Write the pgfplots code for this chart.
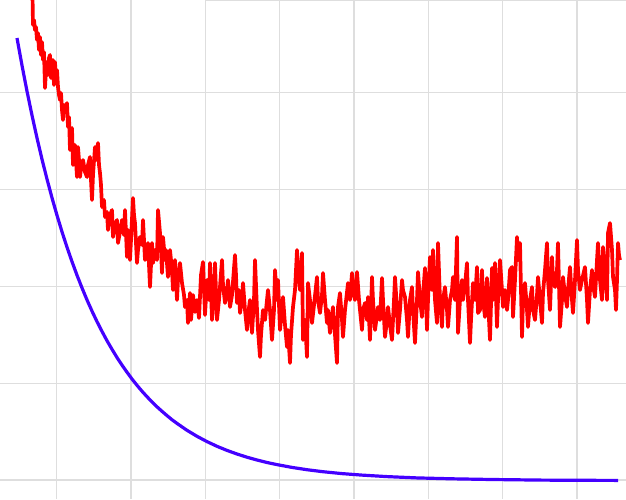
\documentclass[border=0pt]{standalone}
\usepackage{pgfplots}
\pgfplotsset{compat=1.18}
\definecolor{gridgray}{HTML}{DEDEDE}
\definecolor{bluecurve}{HTML}{4400FF}
\definecolor{redcurve}{HTML}{FF0000}
\begin{document}
\begin{tikzpicture}
\begin{axis}[
  scale only axis, width=626pt, height=499pt,
  xmin=0, xmax=626, ymin=0, ymax=499, y dir=reverse,
  axis line style={draw=none},
  xtick={56.7,131,205.3,279.7,354,428.3,502.7,577},
  ytick={92.3,189.3,286.3,383.2,480},
  xticklabels={}, yticklabels={},
  major tick length=0pt,
  grid=major,
  major grid style={draw=gridgray, line width=1.1pt},
  clip=true,
]
\addplot[draw=gridgray, line width=1.1pt] coordinates {(205,0.5) (626,0.5)};
\addplot[draw=bluecurve, line width=3.2pt, line cap=butt] coordinates {
(17,38.0) (22,65.4) (27,91.2) (32,115.3) (37,138.0) (42,159.2) (47,179.1) (52,197.8)
(57,215.3) (62,231.8) (67,247.2) (72,261.6) (77,275.2) (82,287.9) (87,299.9) (92,311.1)
(97,321.6) (102,331.4) (107,340.7) (112,349.3) (117,357.5) (122,365.1) (127,372.2)
(132,379.0) (137,385.3) (142,391.2) (147,396.7) (152,401.9) (157,406.8) (162,411.3)
(167,415.6) (172,419.7) (177,423.4) (187,430.3) (197,436.3) (207,441.6) (217,446.3)
(227,450.4) (237,454.0) (247,457.2) (257,460.0) (267,462.5) (277,464.6) (292,467.4)
(307,469.7) (322,471.6) (342,473.6) (362,475.1) (387,476.6) (417,477.9) (452,478.8)
(492,479.5) (542,480.1) (582,480.3) (618,480.4)
};
\addplot[draw=redcurve, line width=3.7pt, line join=round] coordinates {
(32.5,-5) (33,25) (34,20) (35,30) (36,27) (37,40) (38,33) (39,50) (40,37) (41,55) (42,42)
(43,60) (44,52) (45,88) (46,70) (47,62) (48,75) (49,58) (50,55) (51,78) (52,72) (53,60)
(54,85) (55,62) (56,80) (57,70) (58,87) (59,95) (60,100) (61,93) (62,110) (63,120) (64,105)
(65,112) (67,103) (68,127) (69,117) (70,150) (71,132) (72,128) (73,165) (74,155) (75,145)
(77,177) (78,147) (79,160) (80,177) (81,168) (83,160) (85,172) (87,177) (88,165) (90,157)
(91,180) (92,200) (93,175) (95,147) (96,160) (98,143) (99,165) (100,173) (101,185) (102,207)
(104,200) (105,217) (107,212) (108,230) (110,215) (112,210) (113,237) (115,225) (117,220)
(118,243) (120,232) (122,220) (124,235) (125,210) (127,257) (128,230) (130,260) (131,240)
(133,198) (134,215) (135,223) (137,263) (138,250) (140,237) (142,245) (143,220) (145,260)
(147,250) (148,243) (150,287) (151,265) (152,243) (153,263) (155,250) (157,260) (158,210)
(160,233) (161,250) (162,273) (163,237) (165,260) (166,250) (168,277) (170,250) (172,270)
(173,290) (175,260) (177,300) (178,280) (180,263) (182,283) (184,295) (185,307) (187,300)
(188,323) (190,293) (191,320) (193,295) (195,312) (197,300) (199,318) (201,275) (203,262)
(205,315) (207,280) (209,300) (210,263) (212,320) (214,290) (215,263) (217,320) (219,300)
(222,260) (223,285) (225,303) (227,290) (228,280) (230,307) (232,295) (235,255) (236,275)
(237,303) (239,290) (240,313) (242,300) (243,283) (245,310) (247,330) (248,315) (250,300)
(252,333) (254,300) (255,260) (257,310) (258,330) (260,357) (261,335) (263,310) (265,320)
(268,290) (270,310) (272,340) (274,310) (275,270) (277,300) (278,280) (280,330) (282,310)
(283,297) (285,325) (287,347) (288,330) (290,363) (291,335) (293,307) (295,290) (297,250)
(298,270) (300,290) (302,253) (303,340) (305,320) (307,357) (308,283) (310,300) (312,323)
(314,305) (317,277) (318,300) (320,313) (322,295) (323,273) (325,300) (327,323) (328,310)
(330,333) (332,315) (333,307) (335,335) (337,363) (338,307) (340,293) (342,320) (343,337)
(345,310) (348,283) (350,300) (352,273) (353,290) (355,300) (357,272) (359,300) (362,330)
(363,310) (365,303) (367,320) (368,297) (370,340) (372,277) (373,300) (375,330) (377,315)
(378,307) (380,320) (382,278) (383,300) (385,337) (387,320) (388,307) (390,325) (392,340)
(394,300) (395,277) (397,310) (398,333) (400,310) (402,280) (403,290) (405,297) (407,320)
(408,337) (410,300) (412,287) (413,310) (415,343) (417,300) (418,272) (420,300) (422,317)
(423,295) (425,268) (427,330) (428,300) (430,257) (432,290) (433,250) (435,300) (437,323)
(438,243) (440,300) (442,327) (443,300) (445,287) (447,310) (448,327) (450,300) (452,290)
(453,277) (455,300) (457,237) (458,333) (460,300) (462,280) (463,300) (465,285) (467,263)
(468,300) (470,343) (471,320) (473,283) (475,300) (477,267) (478,313) (480,310) (482,270)
(483,300) (485,317) (487,278) (488,300) (490,340) (492,268) (493,300) (495,263) (497,327)
(498,300) (500,260) (502,290) (503,307) (505,290) (507,310) (508,300) (510,270) (512,267)
(513,317) (515,280) (517,237) (518,260) (520,243) (522,337) (523,300) (525,283) (527,310)
(528,327) (530,300) (532,287) (533,310) (535,320) (537,295) (538,277) (540,300) (542,323)
(543,293) (545,270) (547,243) (548,280) (550,310) (552,257) (553,280) (555,287) (557,270)
(558,243) (560,327) (562,300) (563,277) (565,295) (567,307) (568,290) (570,267) (572,300)
(573,313) (575,280) (577,240) (578,270) (580,290) (582,280) (585,267) (587,300) (588,323)
(590,290) (592,270) (593,285) (595,297) (597,260) (598,243) (600,280) (602,300) (603,247)
(605,270) (607,300) (608,233) (610,223) (612,250) (613,277) (615,290) (616,310) (617,280)
(618,243) (619,255) (620,260)
};
\end{axis}
\pgfresetboundingbox
\useasboundingbox (current axis.south west) rectangle (current axis.north east);
\end{tikzpicture}
\end{document}
